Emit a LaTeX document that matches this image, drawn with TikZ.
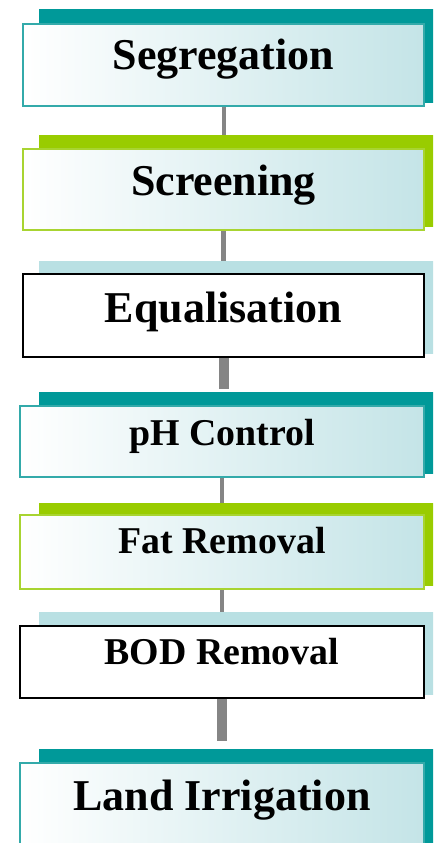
\documentclass[tikz,border=0pt]{standalone}
\usepackage{fontspec}
\setmainfont{Liberation Serif}
\definecolor{deepteal}{HTML}{009999}
\definecolor{limegreen}{HTML}{99CC00}
\definecolor{paleteal}{HTML}{B9E0E3}
\definecolor{tealedge}{HTML}{33AAAA}
\definecolor{limeedge}{HTML}{A8D431}
\definecolor{glowteal}{HTML}{C4E4E7}
\definecolor{linkgray}{HTML}{858585}

\begin{document}
\begin{tikzpicture}[x=0.75pt, y=-0.75pt,
		box/.style={rectangle, inner sep=0pt, outer sep=0pt, anchor=north west},
		backteal/.style={box, fill=deepteal},
		backgreen/.style={box, fill=limegreen},
		backplain/.style={box, fill=paleteal},
		frontteal/.style={box, draw=tealedge, line width=1.5pt, left color=white, right color=glowteal},
		frontgreen/.style={box, draw=limeedge, line width=1.5pt, left color=white, right color=glowteal},
		frontplain/.style={box, draw=black, line width=1.5pt, fill=white},
		bigtxt/.style={font=\fontsize{33}{36}\selectfont\bfseries, anchor=base},
		smalltxt/.style={font=\fontsize{28.4}{30}\selectfont\bfseries, anchor=base},
		link/.style={draw=linkgray, shorten <=0.75pt}]
	\clip (0,0) rectangle (433,843);
	\foreach \i/\k/\sh/\ft/\fb/\fx/\sz/\tb/\txt in {
			1/teal/9/24/106/23/bigtxt/45/Segregation,
			2/green/135/149/230/23/bigtxt/46/Screening,
			3/plain/261/274/357/23/bigtxt/48/Equalisation,
			4/teal/392/406/477/20/smalltxt/39/pH Control,
			5/green/503/515/589/20/smalltxt/38/Fat Removal,
			6/plain/612/626/698/20/smalltxt/38/BOD Removal,
			7/teal/749/763/870/20/bigtxt/47/Land Irrigation} {
		\pgfmathsetmacro\bh{(\fb-3-\sh)*0.75}
		\pgfmathsetmacro\fh{(\fb-\ft)*0.75}
		\pgfmathsetmacro\fw{(424-\fx)*0.75}
		\pgfmathsetmacro\ty{-\tb*0.75}
		\node[back\k, minimum width=301pt, minimum height=\bh pt] (sh\i) at (39,\sh) {};
		\node[front\k, minimum width=\fw pt, minimum height=\fh pt] (b\i) at (\fx,\ft) {};
		\node[\sz] (t\i) at ([yshift=\ty pt]b\i.north) {\txt};
	}
	\foreach \i/\j/\w/\g in {1/2/3/0, 2/3/3.75/0, 3/4/7.5/2.25, 4/5/3/0, 5/6/3/0, 6/7/7.5/6}
		\draw[link, line width=\w pt, shorten >=\g pt] (b\i.south) -- (b\i.south |- sh\j.north);
\end{tikzpicture}
\end{document}
